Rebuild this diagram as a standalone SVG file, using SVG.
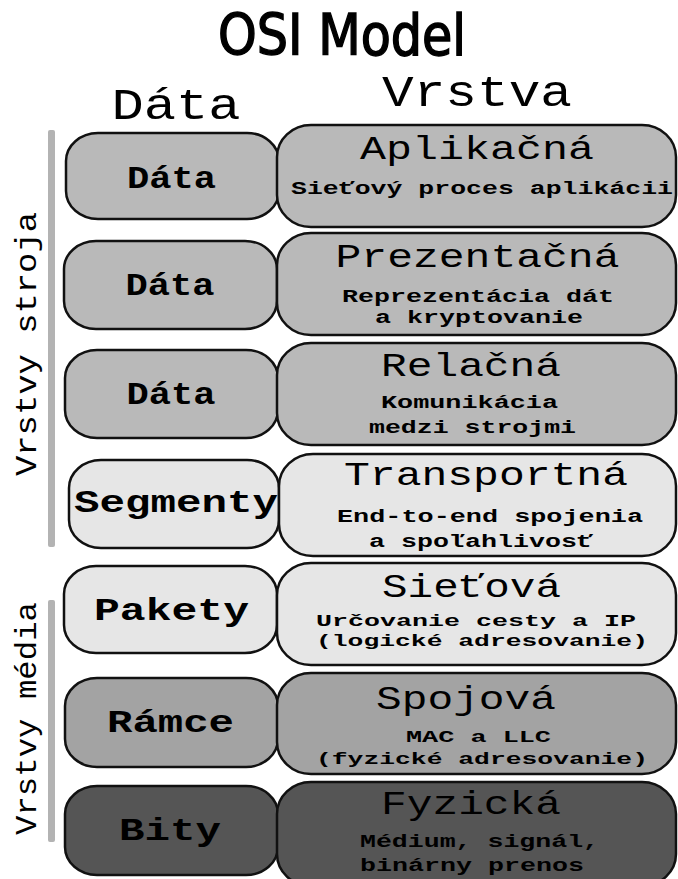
<svg xmlns="http://www.w3.org/2000/svg" width="678" height="879" viewBox="0 0 678 879">
  <style>
    .mono { font-family: "Liberation Mono", "DejaVu Sans Mono", monospace; fill: #000; }
    .head { font-size: 44px; }
    .lab { font-size: 31px; font-weight: bold; text-anchor: middle; }
    .ttl { font-size: 33px; text-anchor: middle; }
    .sub { font-size: 19px; font-weight: bold; text-anchor: middle; }
    .tight { font-size: 17px; }
    .side { font-size: 30px; text-anchor: middle; }
    .box { stroke: #111; stroke-width: 2.5; }
    .g1 { fill: #b9b9b9; }
    .g2 { fill: #e6e6e6; }
    .g3 { fill: #a3a3a3; }
    .g4 { fill: #555555; }
    .bar { fill: #b3b3b3; }
  </style>

  <!-- title and column headings -->
  <text x="342" y="55" font-family="DejaVu Sans Condensed, Liberation Sans Narrow, sans-serif" font-size="57" stroke="#000" stroke-width="1.4" text-anchor="middle" textLength="248" lengthAdjust="spacingAndGlyphs">OSI Model</text>
  <text class="mono head" x="176" y="119" text-anchor="middle" textLength="129" lengthAdjust="spacingAndGlyphs">Dáta</text>
  <text class="mono head" x="477" y="106" text-anchor="middle" textLength="190" lengthAdjust="spacingAndGlyphs">Vrstva</text>

  <!-- side groupings -->
  <g id="group-host">
    <rect class="bar" x="48" y="130" width="7" height="417" rx="2"/>
    <text class="mono side" transform="translate(36,344) rotate(-90)" textLength="264" lengthAdjust="spacingAndGlyphs">Vrstvy stroja</text>
  </g>
  <g id="group-media">
    <rect class="bar" x="48" y="600" width="7" height="242" rx="2"/>
    <text class="mono side" transform="translate(36,718.5) rotate(-90)" textLength="233" lengthAdjust="spacingAndGlyphs">Vrstvy média</text>
  </g>

  <!-- layer 7 -->
  <g id="data-7">
    <rect class="box g1" x="66" y="133" width="213" height="86" rx="32" ry="28"/>
    <text class="mono lab" x="171.5" y="188" textLength="89" lengthAdjust="spacingAndGlyphs">Dáta</text>
  </g>
  <g id="layer-7">
    <rect class="box g1" x="277" y="125" width="399" height="102" rx="34" ry="32"/>
    <text class="mono ttl" x="477" y="159" textLength="234" lengthAdjust="spacingAndGlyphs">Aplikačná</text>
    <text class="mono sub" x="482" y="194" textLength="382" lengthAdjust="spacingAndGlyphs">Sieťový proces aplikácii</text>
  </g>

  <!-- layer 6 -->
  <g id="data-6">
    <rect class="box g1" x="64" y="241" width="213" height="88" rx="32" ry="28"/>
    <text class="mono lab" x="170" y="295" textLength="89" lengthAdjust="spacingAndGlyphs">Dáta</text>
  </g>
  <g id="layer-6">
    <rect class="box g1" x="277" y="233" width="399" height="102" rx="34" ry="32"/>
    <text class="mono ttl" x="477.5" y="267" textLength="284" lengthAdjust="spacingAndGlyphs">Prezentačná</text>
    <text class="mono sub" x="478" y="302" textLength="272" lengthAdjust="spacingAndGlyphs">Reprezentácia dát</text>
    <text class="mono sub" x="479" y="323" textLength="208" lengthAdjust="spacingAndGlyphs">a kryptovanie</text>
  </g>

  <!-- layer 5 -->
  <g id="data-5">
    <rect class="box g1" x="65" y="350" width="213" height="88" rx="32" ry="28"/>
    <text class="mono lab" x="171" y="404" textLength="89" lengthAdjust="spacingAndGlyphs">Dáta</text>
  </g>
  <g id="layer-5">
    <rect class="box g1" x="277" y="343" width="399" height="102" rx="34" ry="32"/>
    <text class="mono ttl" x="471" y="376" textLength="180" lengthAdjust="spacingAndGlyphs">Relačná</text>
    <text class="mono sub" x="469.5" y="408" textLength="177" lengthAdjust="spacingAndGlyphs">Komunikácia</text>
    <text class="mono sub" x="472.5" y="433" textLength="207" lengthAdjust="spacingAndGlyphs">medzi strojmi</text>
  </g>

  <!-- layer 4 -->
  <g id="data-4">
    <rect class="box g2" x="69" y="460" width="210" height="88" rx="32" ry="28"/>
    <text class="mono lab" x="176" y="512" textLength="204" lengthAdjust="spacingAndGlyphs">Segmenty</text>
  </g>
  <g id="layer-4">
    <rect class="box g2" x="279" y="454" width="397" height="102" rx="34" ry="32"/>
    <text class="mono ttl" x="486" y="485" textLength="284" lengthAdjust="spacingAndGlyphs">Transportná</text>
    <text class="mono sub" x="490" y="522" textLength="306" lengthAdjust="spacingAndGlyphs">End-to-end spojenia</text>
    <text class="mono sub" x="481" y="547" textLength="224" lengthAdjust="spacingAndGlyphs">a spoľahlivosť</text>
  </g>

  <!-- layer 3 -->
  <g id="data-3">
    <rect class="box g2" x="64" y="566" width="213" height="87" rx="32" ry="28"/>
    <text class="mono lab" x="171.5" y="620" textLength="155" lengthAdjust="spacingAndGlyphs">Pakety</text>
  </g>
  <g id="layer-3">
    <rect class="box g2" x="277" y="563" width="399" height="102" rx="34" ry="32"/>
    <text class="mono ttl" x="471.5" y="597" textLength="179" lengthAdjust="spacingAndGlyphs">Sieťová</text>
    <text class="mono sub tight" x="476" y="626" textLength="320" lengthAdjust="spacingAndGlyphs">Určovanie cesty a IP</text>
    <text class="mono sub tight" x="482" y="646" textLength="332" lengthAdjust="spacingAndGlyphs">(logické adresovanie)</text>
  </g>

  <!-- layer 2 -->
  <g id="data-2">
    <rect class="box g3" x="65" y="678" width="213" height="89" rx="32" ry="28"/>
    <text class="mono lab" x="170.5" y="732" textLength="127" lengthAdjust="spacingAndGlyphs">Rámce</text>
  </g>
  <g id="layer-2">
    <rect class="box g3" x="277" y="673" width="399" height="101" rx="34" ry="32"/>
    <text class="mono ttl" x="466" y="709" textLength="180" lengthAdjust="spacingAndGlyphs">Spojová</text>
    <text class="mono sub tight" x="478.5" y="742" textLength="145" lengthAdjust="spacingAndGlyphs">MAC a LLC</text>
    <text class="mono sub tight" x="482" y="764" textLength="332" lengthAdjust="spacingAndGlyphs">(fyzické adresovanie)</text>
  </g>

  <!-- layer 1 -->
  <g id="data-1">
    <rect class="box g4" x="65" y="786" width="213" height="89" rx="32" ry="28"/>
    <text class="mono lab" x="170" y="840" textLength="102" lengthAdjust="spacingAndGlyphs">Bity</text>
  </g>
  <g id="layer-1">
    <rect class="box g4" x="277" y="782" width="399" height="104" rx="34" ry="32"/>
    <text class="mono ttl" x="471" y="814" textLength="180" lengthAdjust="spacingAndGlyphs">Fyzická</text>
    <text class="mono sub" x="479.5" y="847" textLength="239" lengthAdjust="spacingAndGlyphs">Médium, signál,</text>
    <text class="mono sub" x="472" y="871" textLength="224" lengthAdjust="spacingAndGlyphs">binárny prenos</text>
  </g>

  <!-- no connectors in this figure -->
  <g id="connectors"/>
</svg>
